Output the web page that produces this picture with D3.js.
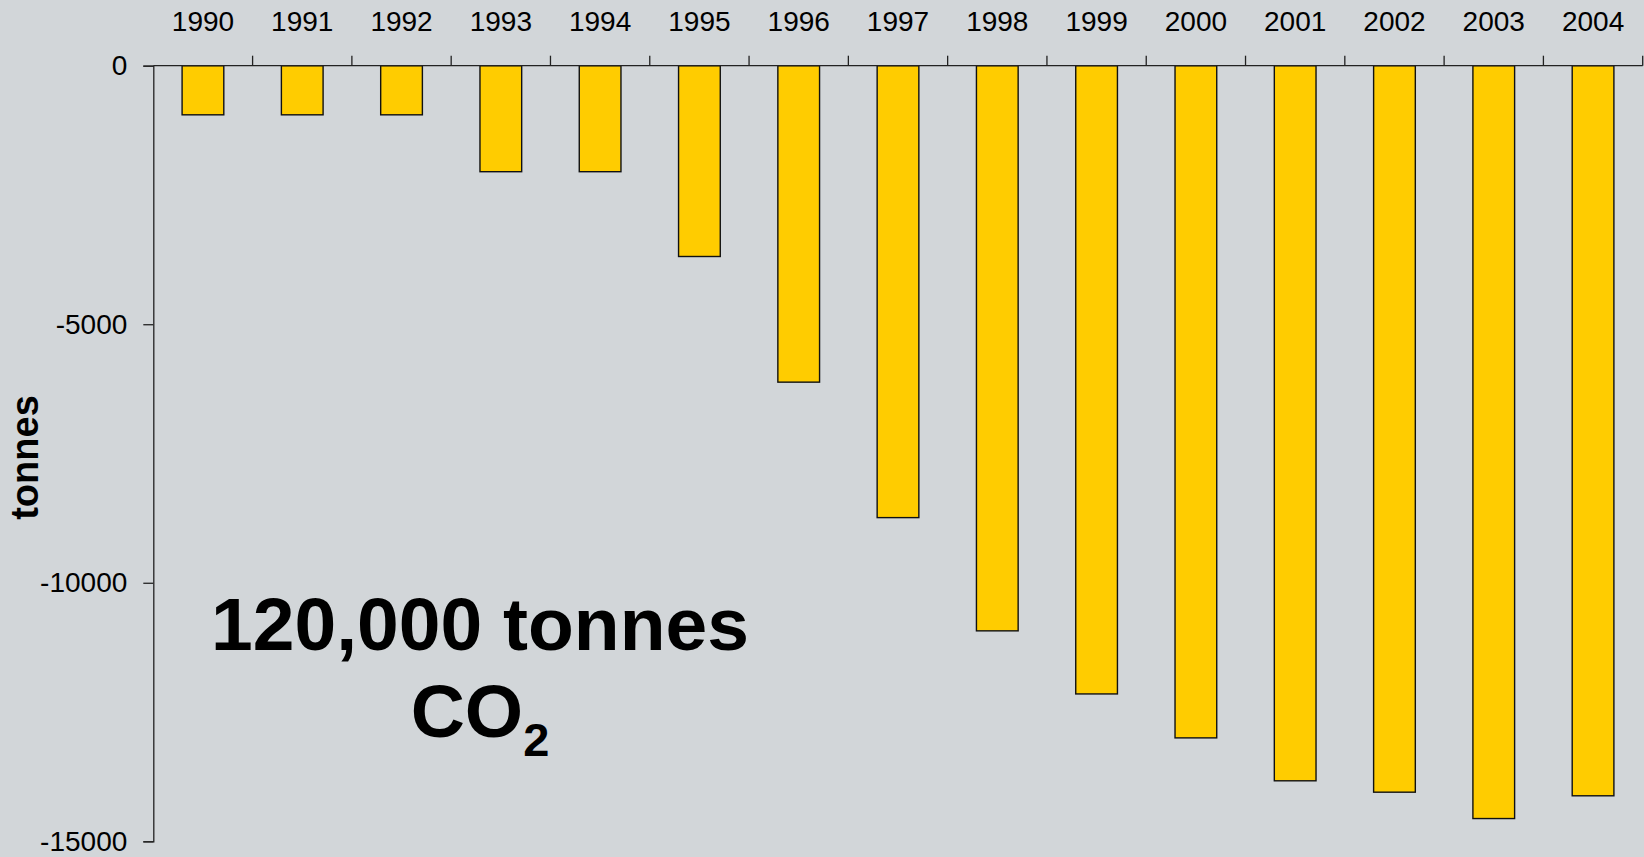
<!DOCTYPE html>
<html>
<head>
<meta charset="utf-8">
<script src="https://cdn.jsdelivr.net/npm/d3@7"></script>
<style>
  html, body { margin: 0; padding: 0; background: #d2d6d9; }
  svg { display: block; font-family: "Liberation Sans", Arial, sans-serif; }
</style>
</head>
<body>
<svg id="chart" width="1644" height="857"></svg>
<script>
// Annual CO2 reduction, tonnes
const years = ["1990","1991","1992","1993","1994","1995","1996","1997","1998","1999","2000","2001","2002","2003","2004"];
const reduction = [-950, -950, -950, -2050, -2050, -3690, -6120, -8740, -10930, -12150, -13000, -13830, -14050, -14560, -14120];
const yTicks = [0, -5000, -10000, -15000];

const W = 1644, H = 857;
const plotLeft = 153.3, plotRight = 1642.7, plotTop = 65.7, plotBottom = 841.3;

const svg = d3.select("#chart");
svg.append("rect").attr("width", W).attr("height", H).attr("fill", "#d2d6d9");

const x = d3.scaleBand().domain(years).range([plotLeft, plotRight]).paddingInner(0).paddingOuter(0);
const y = d3.scaleLinear().domain([0, -15000]).range([plotTop, plotBottom]);

const bw = x.bandwidth();
const barFrac = 0.42;

// bars hanging down from the zero line
svg.append("g").selectAll("rect")
  .data(years.map((yr, i) => ({ yr, v: reduction[i] })))
  .join("rect")
  .attr("x", d => x(d.yr) + bw * (1 - barFrac) / 2)
  .attr("y", d => y(0))
  .attr("width", bw * barFrac)
  .attr("height", d => y(d.v) - y(0))
  .attr("fill", "#ffcc00")
  .attr("stroke", "#111")
  .attr("stroke-width", 1.4);

// value axis on the left (plain hyphen for the sign)
const yAxis = svg.append("g")
  .attr("transform", `translate(${plotLeft},0)`)
  .call(d3.axisLeft(y).tickValues(yTicks).tickFormat(d => String(d)).tickSize(10).tickPadding(16));
yAxis.select(".domain").attr("stroke", "#222").attr("stroke-width", 1.3);
yAxis.selectAll(".tick line").attr("stroke", "#222").attr("stroke-width", 1.3);
yAxis.selectAll("text").attr("font-size", 28).attr("fill", "#000")
  .attr("font-family", "'Liberation Sans', Arial, sans-serif");

// category axis along the zero line, labels on top
const xAxis = svg.append("g")
  .attr("transform", `translate(0,${y(0)})`)
  .call(d3.axisTop(x).tickSize(0).tickPadding(35).tickSizeOuter(0));
xAxis.select(".domain").remove();
xAxis.selectAll("text").attr("font-size", 28).attr("fill", "#000")
  .attr("font-family", "'Liberation Sans', Arial, sans-serif");

svg.append("line")
  .attr("x1", plotLeft).attr("x2", plotRight)
  .attr("y1", y(0)).attr("y2", y(0))
  .attr("stroke", "#222").attr("stroke-width", 1.3);

// tick marks on the category boundaries
const bounds = years.slice(1).map(d => x(d)).concat([plotRight]);
svg.append("g").selectAll("line")
  .data(bounds)
  .join("line")
  .attr("x1", d => d).attr("x2", d => d)
  .attr("y1", y(0)).attr("y2", y(0) - 10)
  .attr("stroke", "#222").attr("stroke-width", 1.3);

// axis title
svg.append("text")
  .attr("transform", `translate(37.5,${(395 + 520) / 2}) rotate(-90)`)
  .attr("text-anchor", "middle")
  .attr("font-size", 38).attr("font-weight", "bold").attr("fill", "#000")
  .text("tonnes");

// headline annotation
const note = svg.append("text")
  .attr("text-anchor", "middle")
  .attr("font-weight", "bold").attr("fill", "#000");
note.append("tspan").attr("x", 480).attr("y", 650).attr("font-size", 75).text("120,000 tonnes");
const co2 = svg.append("text")
  .attr("x", 480).attr("y", 737)
  .attr("text-anchor", "middle")
  .attr("font-weight", "bold").attr("fill", "#000")
  .attr("font-size", 75);
co2.append("tspan").text("CO");
co2.append("tspan").attr("font-size", 47).attr("dy", 19).text("2");
</script>
</body>
</html>
